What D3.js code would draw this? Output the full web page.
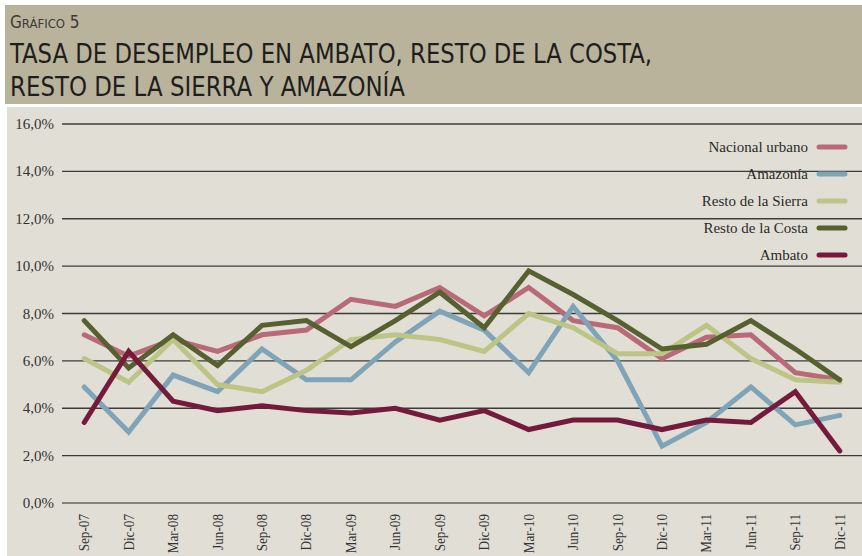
<!DOCTYPE html>
<html>
<head>
<meta charset="utf-8">
<script src="https://cdn.jsdelivr.net/npm/d3@7"></script>
<style>
  html, body { margin: 0; padding: 0; background: #fff; }
  svg { display: block; }
</style>
</head>
<body>
<svg width="862" height="556"></svg>
<script>
const periods = ['Sep-07', 'Dic-07', 'Mar-08', 'Jun-08', 'Sep-08', 'Dic-08', 'Mar-09', 'Jun-09', 'Sep-09',
  'Dic-09', 'Mar-10', 'Jun-10', 'Sep-10', 'Dic-10', 'Mar-11', 'Jun-11', 'Sep-11', 'Dic-11']

const nacionalUrbano = [7.1, 6.2, 6.9, 6.4, 7.1, 7.3, 8.6, 8.3, 9.1, 7.9, 9.1, 7.7, 7.4, 6.1, 7.0, 7.1, 5.5, 5.2]
const amazonia       = [4.9, 3.0, 5.4, 4.7, 6.5, 5.2, 5.2, 6.8, 8.1, 7.3, 5.5, 8.3, 6.0, 2.4, 3.4, 4.9, 3.3, 3.7]
const restoSierra    = [6.1, 5.1, 6.9, 5.0, 4.7, 5.6, 6.9, 7.1, 6.9, 6.4, 8.0, 7.4, 6.3, 6.3, 7.5, 6.1, 5.2, 5.1]
const restoCosta     = [7.7, 5.7, 7.1, 5.8, 7.5, 7.7, 6.6, 7.7, 8.9, 7.4, 9.8, 8.8, 7.7, 6.5, 6.7, 7.7, 6.5, 5.2]
const ambato         = [3.4, 6.4, 4.3, 3.9, 4.1, 3.9, 3.8, 4.0, 3.5, 3.9, 3.1, 3.5, 3.5, 3.1, 3.5, 3.4, 4.7, 2.2]

const seriesNames = ['Nacional urbano', 'Amazonía', 'Resto de la Sierra', 'Resto de la Costa', 'Ambato']
const yTicks = [0, 2, 4, 6, 8, 10, 12, 14, 16]

const series = [
  { name: seriesNames[0], values: nacionalUrbano, color: '#b96a78' },
  { name: seriesNames[1], values: amazonia, color: '#7fa3b7' },
  { name: seriesNames[2], values: restoSierra, color: '#bcc585' },
  { name: seriesNames[3], values: restoCosta, color: '#566030' },
  { name: seriesNames[4], values: ambato, color: '#741a3b' }
]

const svg = d3.select('svg')
const width = +svg.attr('width')
const height = +svg.attr('height')

// header band
svg.append('rect')
  .attr('x', 5).attr('y', 5)
  .attr('width', width - 5).attr('height', 99)
  .attr('fill', '#bab39c')

// chart panel
svg.append('rect')
  .attr('x', 7).attr('y', 107)
  .attr('width', width - 7).attr('height', height - 107)
  .attr('fill', '#e1dfd5')

const titleFont = '"Liberation Sans Narrow", "DejaVu Sans Condensed", sans-serif'

svg.append('text')
  .attr('x', 10).attr('y', 28)
  .attr('font-family', titleFont)
  .attr('fill', '#3a3a36')
  .call(t => {
    t.append('tspan').attr('font-size', 17).text('G')
    t.append('tspan').attr('font-size', 13).text('RÁFICO')
    t.append('tspan').attr('font-size', 17).text(' 5')
  })

svg.append('text')
  .attr('x', 10).attr('y', 63)
  .attr('font-family', titleFont)
  .attr('font-size', 27)
  .attr('fill', '#1e1e1c')
  .attr('textLength', 642)
  .attr('lengthAdjust', 'spacingAndGlyphs')
  .text('TASA DE DESEMPLEO EN AMBATO, RESTO DE LA COSTA,')

svg.append('text')
  .attr('x', 10).attr('y', 96)
  .attr('font-family', titleFont)
  .attr('font-size', 27)
  .attr('fill', '#1e1e1c')
  .attr('textLength', 395)
  .attr('lengthAdjust', 'spacingAndGlyphs')
  .text('RESTO DE LA SIERRA Y AMAZONÍA')

const serif = '"Liberation Serif", "DejaVu Serif", serif'

const x = d3.scaleBand()
  .domain(periods)
  .range([62, 862])

const y = d3.scaleLinear()
  .domain([0, 16])
  .range([503, 124])

// gridlines
svg.append('g')
  .selectAll('line')
  .data(yTicks)
  .join('line')
  .attr('x1', 62).attr('x2', width)
  .attr('y1', d => y(d)).attr('y2', d => y(d))
  .attr('stroke', d => d === 0 ? '#85837b' : '#3c3c3a')
  .attr('stroke-width', d => d === 0 ? 2 : 1.3)

// y labels
svg.append('g')
  .selectAll('text')
  .data(yTicks)
  .join('text')
  .attr('x', 54)
  .attr('y', d => y(d) + 5)
  .attr('text-anchor', 'end')
  .attr('font-family', serif)
  .attr('font-size', 15)
  .attr('fill', '#333')
  .text(d => d3.format('.1f')(d).replace('.', ',') + '%')

// x labels (slightly condensed so they fit under the axis)
svg.append('g')
  .selectAll('text')
  .data(periods)
  .join('text')
  .attr('transform', d => `translate(${x(d) + x.bandwidth() / 2 + 5}, 514) rotate(-90) scale(0.88, 1)`)
  .attr('text-anchor', 'end')
  .attr('font-family', serif)
  .attr('font-size', 15)
  .attr('fill', '#333')
  .text(d => d)

const line = d3.line()
  .x((d, i) => x(periods[i]) + x.bandwidth() / 2)
  .y(d => y(d))

svg.append('g')
  .selectAll('path')
  .data(series)
  .join('path')
  .attr('d', d => line(d.values))
  .attr('fill', 'none')
  .attr('stroke', d => d.color)
  .attr('stroke-width', 5)
  .attr('stroke-linejoin', 'miter')
  .attr('stroke-linecap', 'round')

// legend
const legend = svg.append('g')
  .selectAll('g')
  .data(series)
  .join('g')
  .attr('transform', (d, i) => `translate(0, ${147 + i * 27})`)

legend.append('text')
  .attr('x', 808).attr('y', 5)
  .attr('text-anchor', 'end')
  .attr('font-family', serif)
  .attr('font-size', 15)
  .attr('fill', '#2a2a28')
  .text(d => d.name)

legend.append('line')
  .attr('x1', 819).attr('x2', 845)
  .attr('y1', 0).attr('y2', 0)
  .attr('stroke', d => d.color)
  .attr('stroke-width', 5)
  .attr('stroke-linecap', 'round')
</script>
</body>
</html>
